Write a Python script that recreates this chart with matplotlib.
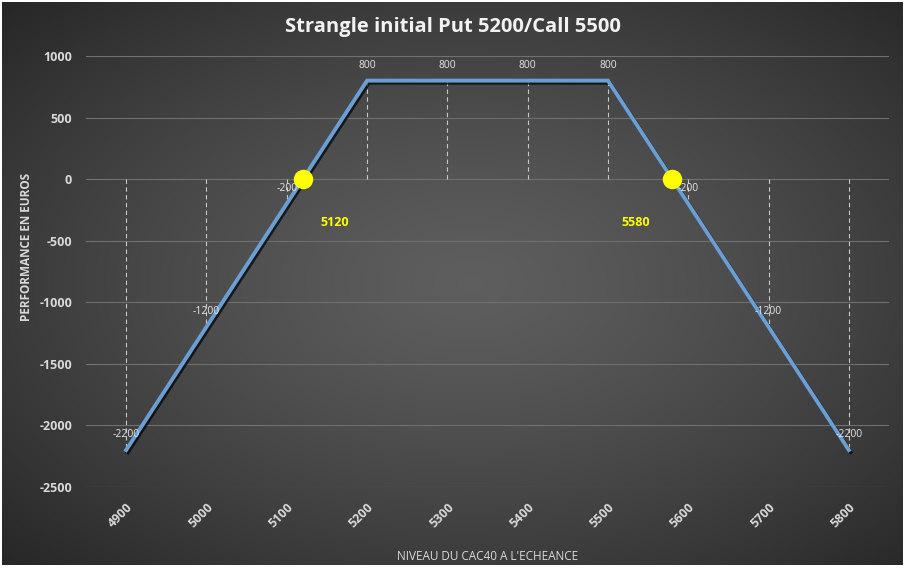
import numpy as np
import matplotlib
matplotlib.use("Agg")
import matplotlib.pyplot as plt
import matplotlib.patheffects as pe

# Data
niveaux = [4900, 5000, 5100, 5200, 5300, 5400, 5500, 5600, 5700, 5800]
performance = [-2200, -1200, -200, 800, 800, 800, 800, -200, -1200, -2200]
points_morts = [5120, 5580]
titre = "Strangle initial Put 5200/Call 5500"

plt.rcParams['font.family'] = ['Open Sans', 'DejaVu Sans']
plt.rcParams['axes.unicode_minus'] = False

fig = plt.figure(figsize=(9.1, 5.73), dpi=100, facecolor='white')

# background with radial gradient
bg = fig.add_axes([2 / 910, 8 / 573, 901 / 910, 563 / 573])
bg.set_axis_off()
yy, xx = np.mgrid[0:1:300j, 0:1:480j]
r = np.sqrt(((xx - 0.52) / 0.75) ** 2 + ((yy - 0.5) / 0.75) ** 2)
r = np.clip(r, 0, 1)
lo, hi = 0.14, 0.37
grad = hi - (hi - lo) * r ** 1.3
bg.imshow(np.dstack([grad, grad, grad]), aspect='auto', extent=[0, 1, 0, 1])
bg.set_xlim(0, 1)
bg.set_ylim(0, 1)

ax = fig.add_axes([86 / 910, 1 - 487 / 573, (889 - 86) / 910, (487 - 56) / 573])
ax.patch.set_alpha(0)

pos = np.arange(len(niveaux))

def to_pos(v):
    return np.interp(v, niveaux, pos)

ax.set_xlim(-0.5, len(niveaux) - 0.5)
ax.set_ylim(-2500, 1000)
ax.set_yticks(np.arange(-2500, 1001, 500))
ax.grid(axis='y', color='#707070', linewidth=0.8)
ax.set_axisbelow(True)

# drop lines
for p, v in zip(pos, performance):
    ax.plot([p, p], [0, v], color='#c8c8c8', linewidth=0.8, linestyle=(0, (4, 3)), zorder=2)

ax.plot(pos, performance, color='#6a9fd6', linewidth=2.8, solid_joinstyle='miter', zorder=3,
        path_effects=[pe.SimpleLineShadow(offset=(1.2, -1.5), shadow_color='black', alpha=0.7), pe.Normal()])

for p, v in zip(pos, performance):
    ax.annotate(str(v), (p, v), xytext=(0, 11), textcoords='offset points', ha='center', va='center',
                fontsize=7.5, color='#e6e6e6', zorder=4)

for bk in points_morts:
    ax.plot(to_pos(bk), 0, 'o', color='#ffff00', markersize=13, zorder=5)
ax.text(to_pos(points_morts[0]) + 0.4, -350, str(points_morts[0]), color='#ffff00', fontsize=9,
        fontweight='bold', ha='center', va='center')
ax.text(to_pos(points_morts[1]) - 0.45, -350, str(points_morts[1]), color='#ffff00', fontsize=9,
        fontweight='bold', ha='center', va='center')

ax.set_xticks(pos)
ax.set_xticklabels([str(n) for n in niveaux], rotation=45, ha='right', va='top',
                   rotation_mode='anchor', fontsize=9, fontweight='bold', color='#d9d9d9')
for lab in ax.get_yticklabels():
    lab.set_fontsize(9)
    lab.set_fontweight('bold')
    lab.set_color('#d9d9d9')
ax.tick_params(axis='both', length=0)
ax.tick_params(axis='x', pad=10)
ax.tick_params(axis='y', pad=10)
for s in ax.spines.values():
    s.set_visible(False)

ax.set_ylabel('PERFORMANCE EN EUROS', fontsize=8.5, fontweight='bold', color='#d9d9d9')
ax.yaxis.set_label_coords(-0.066, 0.557)
ax.set_xlabel("NIVEAU DU CAC40 A L'ECHEANCE", fontsize=8.5, color='#d9d9d9', labelpad=14)

fig.text(453 / 910, 1 - 27 / 573, titre, ha='center', va='center', fontsize=14.5,
         fontweight='bold', color='#f2f2f2')

fig.savefig('out.png', dpi=100, facecolor='white')
